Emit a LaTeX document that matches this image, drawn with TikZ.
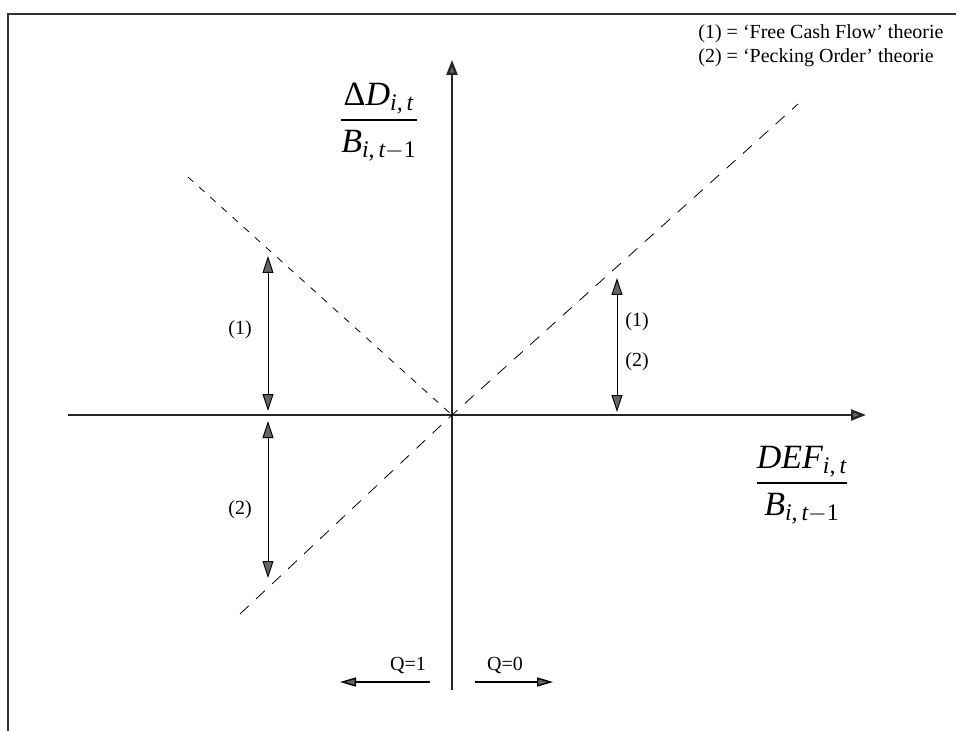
\documentclass[tikz,border=0pt]{standalone}
\usepackage{amsmath}
\usepackage{fontspec}
\setmainfont{Liberation Serif}
\usetikzlibrary{arrows.meta}
\newcommand{\vi}[1]{\text{\itshape #1}}

\begin{document}
\begin{tikzpicture}[x=0.5pt,y=-0.5pt,>={Triangle[length=7.5pt,width=5.5pt,fill=black!60]},
  axis/.style={line width=1.2pt,->,draw=black!85},
  gap/.style={line width=0.5pt,<->,>={Triangle[length=8.5pt,width=5.5pt,fill=black!60]}},
  qarrow/.style={line width=0.7pt,->,>={Triangle[length=8pt,width=4.5pt,fill=black!60]}},
  fcf/.style={line width=0.4pt,dash pattern=on 3.5pt off 4pt},
  po/.style={line width=0.4pt,dash pattern=on 6pt off 5pt},
  lab/.style={font=\fontsize{10}{12}\selectfont,inner sep=1pt},
  fraclab/.style={font=\fontsize{17}{20}\selectfont,inner sep=1pt}]
\useasboundingbox (0,0) rectangle (956,731);
% frame
\draw[line width=1pt,black!80] (8,731) -- (8,14) -- (956,14);
% axes
\coordinate (O) at (452,415);
\coordinate (xl) at (68,415);
\coordinate (xr) at (866,415);
\coordinate (yb) at (452,690);
\coordinate (yt) at (452,60);
\draw[axis] (xl) -- (xr);
\draw[axis] (yb) -- (yt);
% dashed lines
\coordinate (fcfend) at (188,177);
\coordinate (polow) at (240,614);
\coordinate (pohigh) at (798,104);
\draw[fcf] (fcfend) -- (O);
\draw[po] (polow) -- (O) -- (pohigh);
% distances
\coordinate (upt) at (268,256);
\coordinate (upb) at (268,411);
\coordinate (lowt) at (268,421);
\coordinate (lowb) at (268,578);
\coordinate (rt) at (617,278);
\coordinate (rb) at (617,412);
\draw[gap] (upt) -- (upb);
\draw[gap] (lowt) -- (lowb);
\draw[gap] (rt) -- (rb);
\node[lab] (upone) at (240,330) {(1)};
\node[lab] (lowtwo) at (240,510) {(2)};
\node[lab] (rone) at (637,322) {(1)};
\node[lab] (rtwo) at (637,362) {(2)};
% Q arrows
\coordinate (qones) at (430,682);
\coordinate (qonee) at (340,682);
\coordinate (qzeros) at (475,682);
\coordinate (qzeroe) at (553,682);
\draw[qarrow] (qones) -- (qonee);
\draw[qarrow] (qzeros) -- (qzeroe);
\node[lab] (qone) at (408,665) {Q=1};
\node[lab] (qzero) at (505,665) {Q=0};
% axis labels
\node[fraclab] (ylab) at (379,122) {$\dfrac{\text{Δ}\vi{D}_{\vi{i,\,t}}}{\vi{B}_{\vi{i,\,t}-\text{1}}}$};
\node[fraclab] (xlab) at (802,485) {$\dfrac{\vi{DEF}_{\vi{i,\,t}}}{\vi{B}_{\vi{i,\,t}-\text{1}}}$};
% legend
\node[lab,anchor=north west,align=left,inner sep=0pt] (legend) at (698,24)
  {(1) = ‘Free Cash Flow’ theorie\\(2) = ‘Pecking Order’ theorie};
\end{tikzpicture}
\end{document}
